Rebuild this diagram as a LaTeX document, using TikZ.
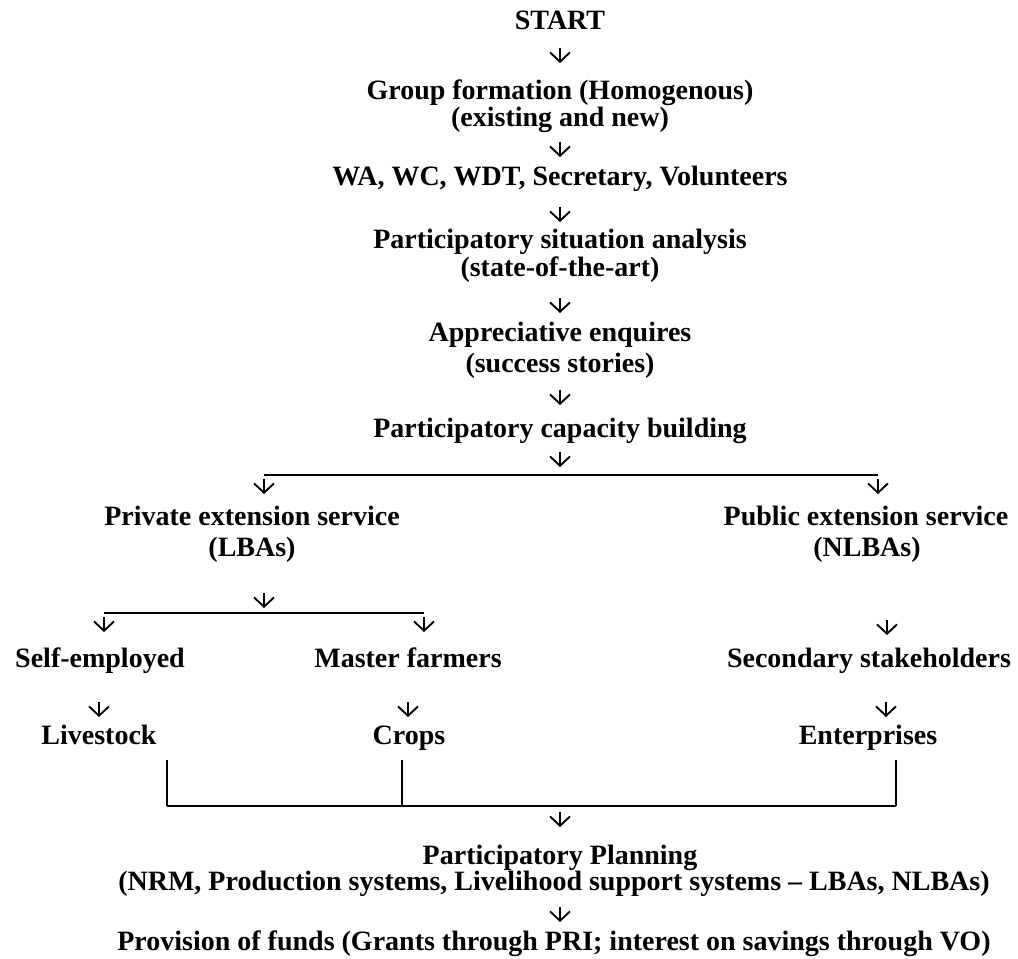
\documentclass[tikz,border=0pt]{standalone}
\usepackage{fontspec}
\setmainfont{Liberation Serif}
\usetikzlibrary{arrows.meta}

% short downward arrow placed below a node's baseline:
% \dnarrow[x offset]{node}{y offset below baseline}
\newcommand\dnarrow[3][0]{\draw[arr] (#2.base) ++(#1,#3) -- ++(0,15);}

\begin{document}
\begin{tikzpicture}[x=0.75pt,y=-0.75pt,
  lbl/.style={anchor=base, inner sep=0pt, font=\fontsize{21}{24}\selectfont\bfseries},
  arr/.style={line width=1.4pt, -{Straight Barb[length=7pt,width=15pt,line width=1.4pt]}},
  bar/.style={line width=2pt},
  post/.style={line width=1.4pt}]
\useasboundingbox (0,0) rectangle (1018,959);

% main column
\node[lbl] (start)  at (560,30)  {START};
\node[lbl] (group)  at (560,100) {Group formation (Homogenous)};
\node[lbl] (group2) at (560,127) {(existing and new)};
\node[lbl] (roles)  at (560,186) {WA, WC, WDT, Secretary, Volunteers};
\node[lbl] (psa)    at (560,249) {Participatory situation analysis};
\node[lbl] (psa2)   at (560,277) {(state-of-the-art)};
\node[lbl] (ae)     at (560,342) {Appreciative enquires};
\node[lbl] (ae2)    at (560,373) {(success stories)};
\node[lbl] (pcb)    at (560,437) {Participatory capacity building};

% two service branches
\node[lbl] (priv)  at (252,525) {Private extension service};
\node[lbl] (priv2) at (252,556) {(LBAs)};
\node[lbl] (pub)   at (866,525) {Public extension service};
\node[lbl] (pub2)  at (867,556) {(NLBAs)};

% actors and activities
\node[lbl] (self)   at (100,667) {Self-employed};
\node[lbl] (master) at (408,667) {Master farmers};
\node[lbl] (sec)    at (869,667) {Secondary stakeholders};
\node[lbl] (live)   at (99,744)  {Livestock};
\node[lbl] (crops)  at (409,744) {Crops};
\node[lbl] (ent)    at (868,744) {Enterprises};

% planning and funds
\node[lbl] (pp)    at (560,864) {Participatory Planning};
\node[lbl] (nrm)   at (554,890) {(NRM, Production systems, Livelihood support systems – LBAs, NLBAs)};
\node[lbl] (funds) at (554,950) {Provision of funds (Grants through PRI; interest on savings through VO)};

% arrows down the main column
\dnarrow{start}{18}
\dnarrow{group2}{15}
\dnarrow{roles}{21}
\dnarrow{psa2}{21}
\dnarrow{ae2}{17}
\dnarrow{pcb}{15}

% split into private / public
\coordinate (brL) at (264,475);
\coordinate (brR) at (878,475);
\draw[bar] (brL) -- (brR);
\draw[arr] (brL) ++(0,4) -- ++(0,15);
\draw[arr] (brR) ++(0,4) -- ++(0,15);

% private split
\dnarrow[12]{priv2}{37}
\coordinate (sbL) at (104,613);
\coordinate (sbR) at (424,613);
\draw[bar] (sbL) -- (sbR);
\draw[arr] (sbL) ++(0,4) -- ++(0,15);
\draw[arr] (sbR) ++(0,4) -- ++(0,15);

% public chain
\dnarrow[20]{pub2}{64}
\dnarrow[-1]{self}{35}
\dnarrow{master}{35}
\dnarrow[17]{sec}{35}

% merge bracket
\coordinate (mL) at (167,806);
\coordinate (mM) at (402,806);
\coordinate (mR) at (896,806);
\coordinate (mC) at (560,806);
\draw[post] (mL) -- ++(0,-46);
\draw[post] (mM) -- ++(0,-46);
\draw[post] (mR) -- ++(0,-46);
\draw[bar] (mL) -- (mR);
\draw[arr] (mC) ++(0,6) -- ++(0,15);

\dnarrow[6]{nrm}{17}
\end{tikzpicture}
\end{document}
